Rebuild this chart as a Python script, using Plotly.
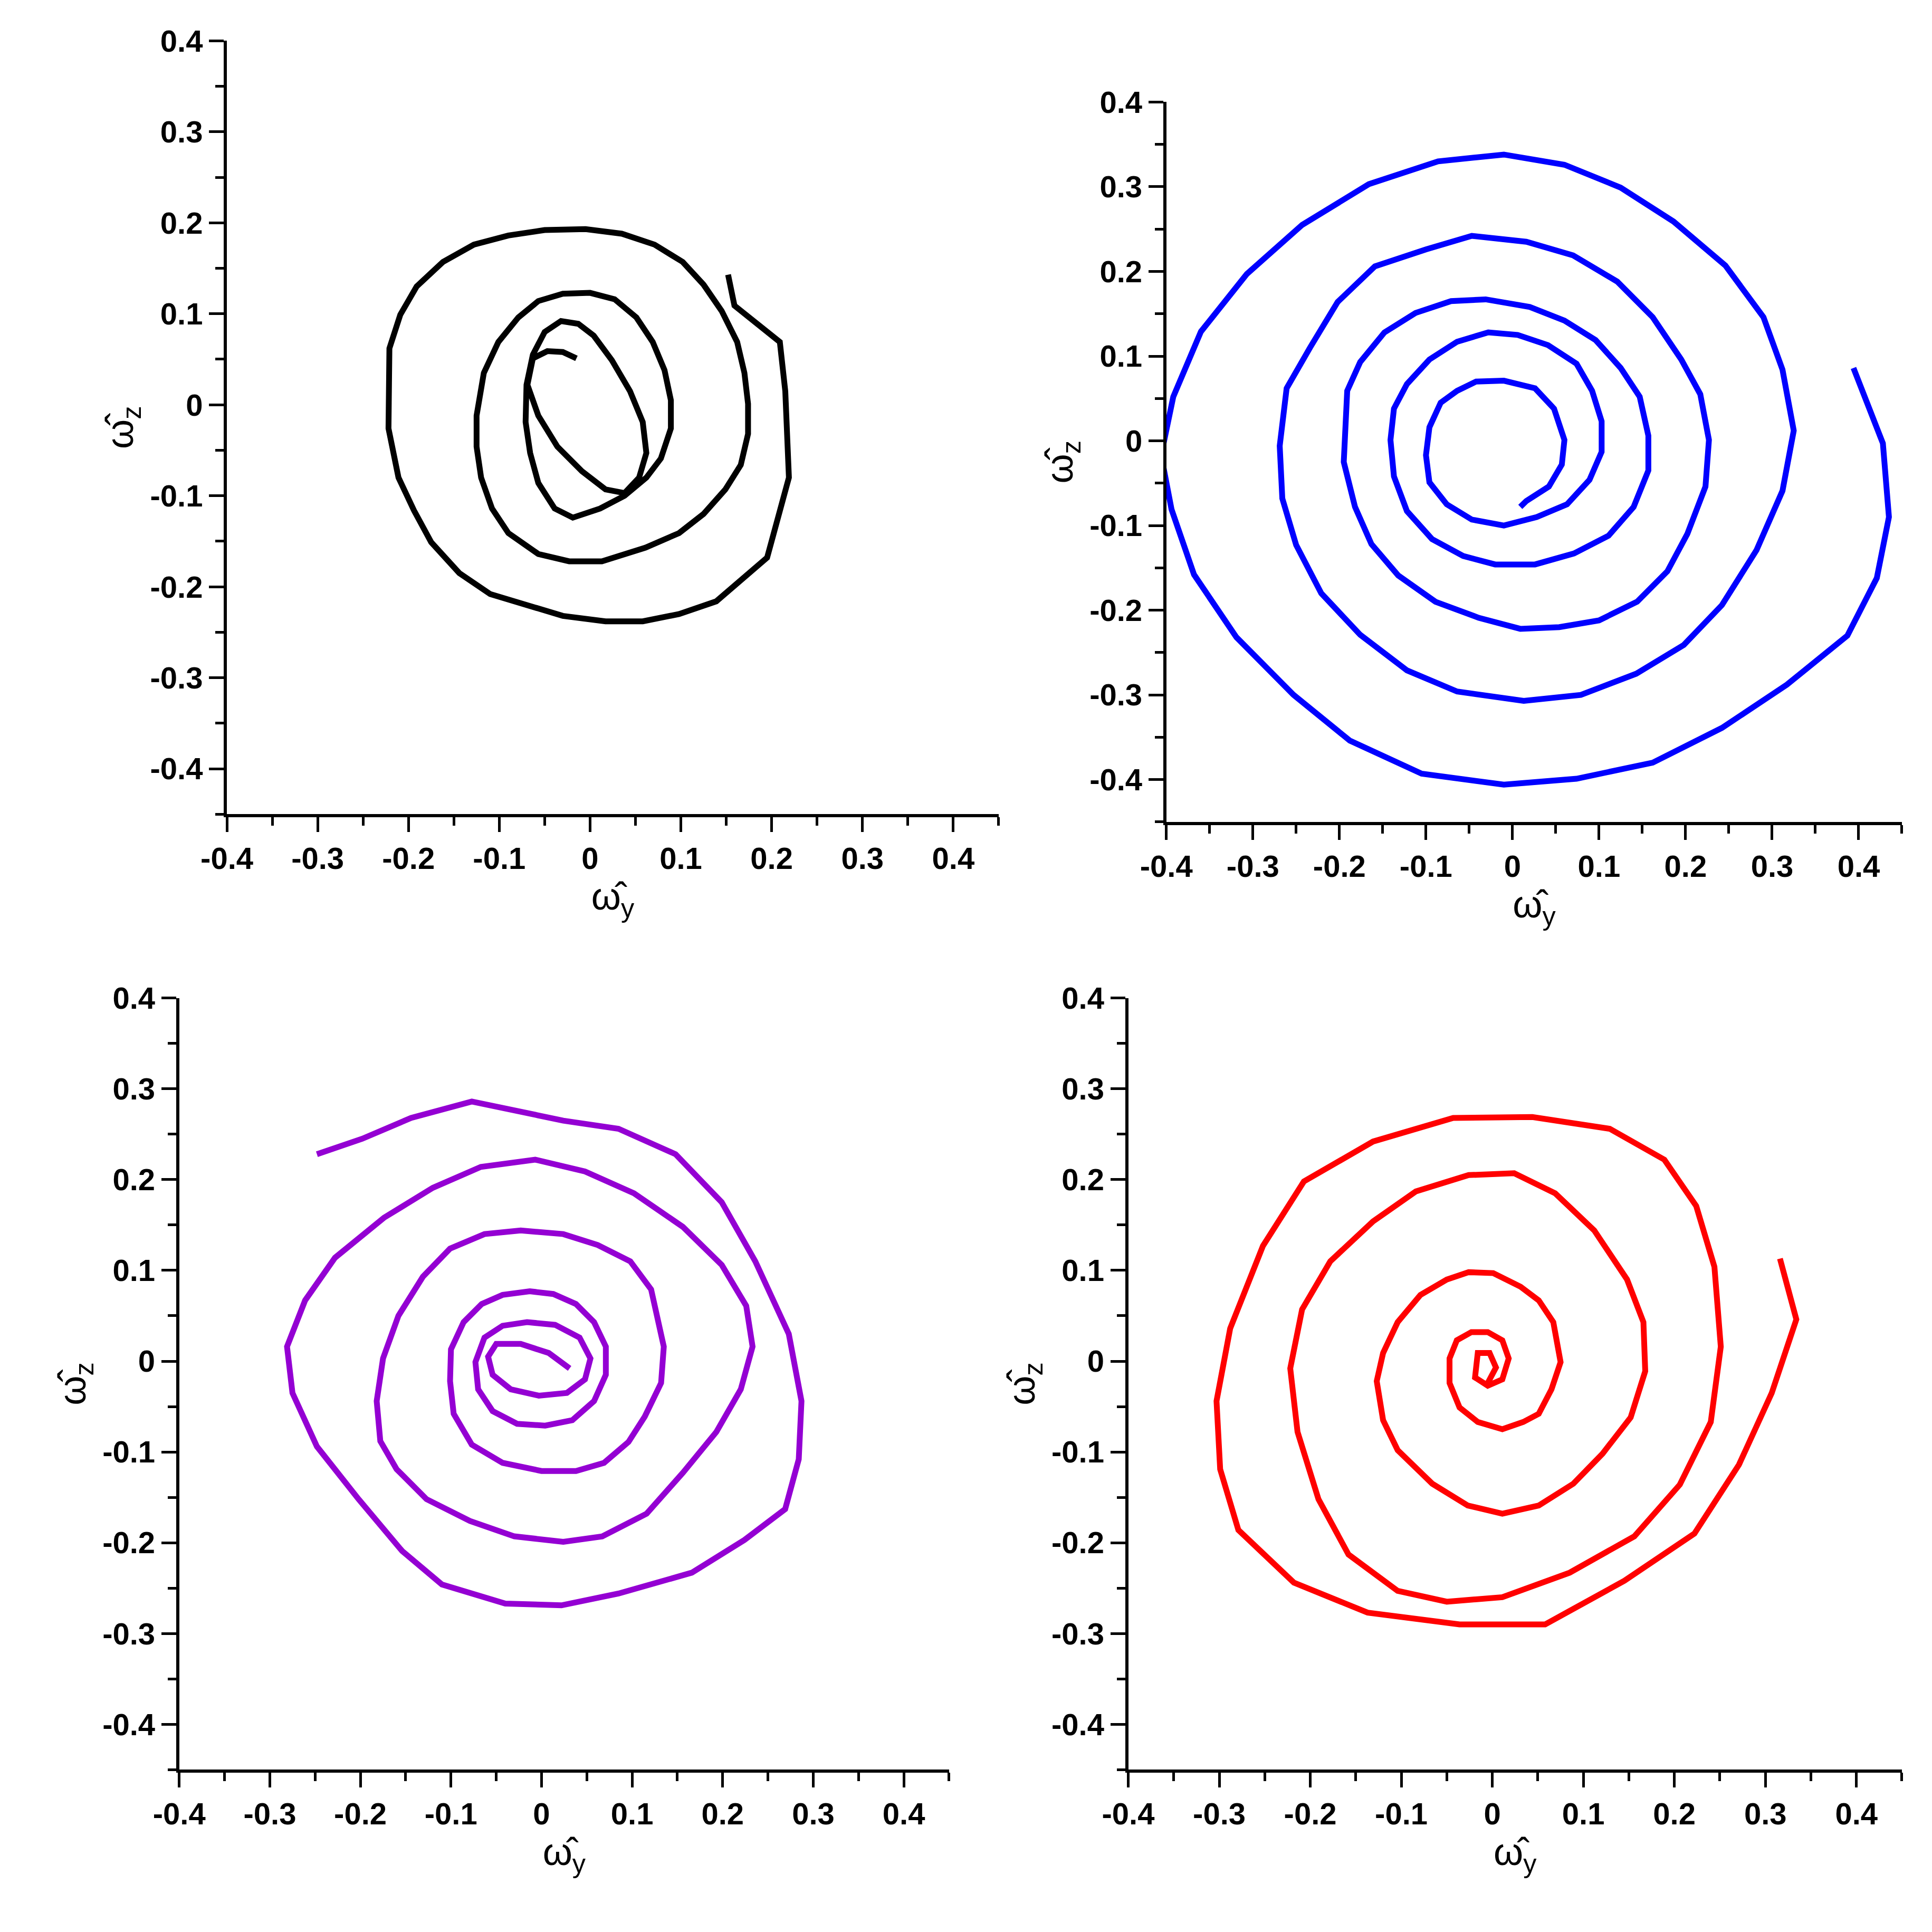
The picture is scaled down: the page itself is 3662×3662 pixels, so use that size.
import plotly.graph_objects as go

# black curve (top left)
black_y = [0.152, 0.159, 0.209, 0.215, 0.219, 0.195, 0.139, 0.098, 0.058, 0.017, -0.030, -0.110, -0.144, -0.175, -0.194, -0.211, -0.222, -0.221, -0.209, -0.191, -0.162, -0.128, -0.090, -0.050, -0.005, 0.035, 0.071, 0.102, 0.125, 0.145, 0.162, 0.170, 0.174, 0.174, 0.166, 0.149, 0.125, 0.098, 0.061, 0.013, -0.023, -0.057, -0.090, -0.108, -0.120, -0.125, -0.125, -0.117, -0.101, -0.079, -0.057, -0.030, 0.000, 0.027, 0.051, 0.069, 0.082, 0.089, 0.089, 0.078, 0.062, 0.038, 0.011, -0.019, -0.039, -0.057, -0.066, -0.071, -0.070, -0.063, -0.050, -0.032, -0.013, 0.004, 0.024, 0.044, 0.058, 0.062, 0.054, 0.038, 0.017, -0.009, -0.036, -0.057, -0.069, -0.063, -0.047, -0.030, -0.015]
black_z = [0.143, 0.109, 0.069, 0.015, -0.080, -0.168, -0.216, -0.230, -0.238, -0.238, -0.232, -0.208, -0.185, -0.151, -0.116, -0.080, -0.026, 0.062, 0.099, 0.130, 0.157, 0.176, 0.186, 0.192, 0.193, 0.188, 0.176, 0.157, 0.132, 0.103, 0.069, 0.035, 0.001, -0.032, -0.066, -0.093, -0.120, -0.141, -0.157, -0.172, -0.172, -0.164, -0.141, -0.114, -0.080, -0.046, -0.012, 0.035, 0.069, 0.096, 0.114, 0.122, 0.123, 0.116, 0.096, 0.069, 0.038, 0.005, -0.026, -0.059, -0.080, -0.100, -0.114, -0.124, -0.114, -0.086, -0.053, -0.019, 0.022, 0.055, 0.080, 0.092, 0.089, 0.076, 0.049, 0.015, -0.019, -0.053, -0.080, -0.097, -0.093, -0.073, -0.046, -0.012, 0.022, 0.051, 0.059, 0.058, 0.051]

# blue curve (top right)
blue_y = [0.394, 0.428, 0.435, 0.421, 0.387, 0.317, 0.242, 0.162, 0.074, -0.010, -0.105, -0.188, -0.253, -0.319, -0.368, -0.394, -0.406, -0.392, -0.360, -0.307, -0.243, -0.166, -0.086, -0.010, 0.060, 0.125, 0.186, 0.246, 0.290, 0.312, 0.325, 0.312, 0.282, 0.242, 0.198, 0.143, 0.079, 0.013, -0.064, -0.122, -0.176, -0.221, -0.250, -0.266, -0.269, -0.261, -0.234, -0.202, -0.159, -0.100, -0.047, 0.016, 0.070, 0.121, 0.162, 0.195, 0.217, 0.227, 0.223, 0.202, 0.179, 0.144, 0.100, 0.054, 0.009, -0.039, -0.089, -0.132, -0.163, -0.182, -0.195, -0.191, -0.176, -0.148, -0.112, -0.071, -0.031, 0.020, 0.060, 0.096, 0.125, 0.147, 0.157, 0.157, 0.140, 0.111, 0.071, 0.026, -0.020, -0.057, -0.093, -0.122, -0.137, -0.141, -0.137, -0.122, -0.096, -0.064, -0.028, 0.006, 0.041, 0.074, 0.092, 0.103, 0.103, 0.089, 0.063, 0.028, -0.010, -0.047, -0.076, -0.096, -0.100, -0.096, -0.083, -0.064, -0.042, -0.010, 0.026, 0.048, 0.060, 0.057, 0.042, 0.016, 0.009]
blue_z = [0.086, -0.003, -0.090, -0.162, -0.230, -0.288, -0.339, -0.380, -0.399, -0.406, -0.393, -0.354, -0.300, -0.232, -0.158, -0.081, -0.017, 0.052, 0.129, 0.197, 0.255, 0.303, 0.330, 0.338, 0.326, 0.299, 0.259, 0.207, 0.146, 0.084, 0.012, -0.059, -0.129, -0.194, -0.241, -0.275, -0.300, -0.307, -0.296, -0.271, -0.229, -0.180, -0.123, -0.068, -0.006, 0.062, 0.110, 0.164, 0.206, 0.226, 0.242, 0.235, 0.219, 0.188, 0.146, 0.096, 0.055, 0.001, -0.054, -0.110, -0.154, -0.190, -0.212, -0.220, -0.222, -0.209, -0.190, -0.159, -0.122, -0.078, -0.025, 0.059, 0.093, 0.128, 0.151, 0.165, 0.167, 0.158, 0.142, 0.119, 0.086, 0.052, 0.006, -0.035, -0.078, -0.112, -0.133, -0.146, -0.146, -0.136, -0.116, -0.083, -0.042, 0.001, 0.038, 0.067, 0.096, 0.117, 0.128, 0.125, 0.113, 0.091, 0.059, 0.023, -0.013, -0.046, -0.075, -0.090, -0.100, -0.093, -0.075, -0.049, -0.017, 0.016, 0.045, 0.059, 0.070, 0.071, 0.062, 0.038, 0.001, -0.028, -0.054, -0.071, -0.078]

# purple curve (bottom left)
purple_y = [-0.248, -0.198, -0.144, -0.077, 0.024, 0.085, 0.148, 0.199, 0.236, 0.273, 0.287, 0.284, 0.269, 0.224, 0.166, 0.085, 0.022, -0.040, -0.110, -0.154, -0.202, -0.248, -0.275, -0.281, -0.261, -0.228, -0.174, -0.120, -0.067, -0.007, 0.048, 0.102, 0.156, 0.199, 0.226, 0.233, 0.220, 0.193, 0.156, 0.116, 0.067, 0.024, -0.030, -0.079, -0.127, -0.160, -0.178, -0.182, -0.175, -0.158, -0.131, -0.101, -0.063, -0.023, 0.024, 0.062, 0.098, 0.121, 0.135, 0.132, 0.114, 0.096, 0.069, 0.038, 0.000, -0.043, -0.077, -0.097, -0.101, -0.100, -0.086, -0.066, -0.043, -0.013, 0.013, 0.038, 0.058, 0.071, 0.071, 0.058, 0.034, 0.004, -0.027, -0.054, -0.070, -0.073, -0.063, -0.043, -0.016, 0.015, 0.042, 0.054, 0.048, 0.028, -0.003, -0.034, -0.054, -0.059, -0.050, -0.023, 0.008, 0.031]
purple_z = [0.228, 0.245, 0.268, 0.286, 0.265, 0.256, 0.228, 0.175, 0.110, 0.030, -0.044, -0.108, -0.163, -0.197, -0.233, -0.256, -0.269, -0.267, -0.246, -0.209, -0.152, -0.094, -0.035, 0.016, 0.067, 0.114, 0.158, 0.191, 0.214, 0.222, 0.209, 0.185, 0.148, 0.106, 0.061, 0.016, -0.031, -0.078, -0.123, -0.168, -0.193, -0.199, -0.193, -0.176, -0.152, -0.119, -0.088, -0.044, 0.003, 0.050, 0.093, 0.124, 0.140, 0.144, 0.140, 0.128, 0.110, 0.079, 0.016, -0.024, -0.061, -0.089, -0.112, -0.121, -0.121, -0.112, -0.092, -0.058, -0.022, 0.013, 0.043, 0.063, 0.073, 0.077, 0.074, 0.063, 0.043, 0.016, -0.015, -0.044, -0.065, -0.071, -0.069, -0.055, -0.031, -0.001, 0.026, 0.039, 0.043, 0.040, 0.026, 0.003, -0.020, -0.035, -0.038, -0.031, -0.015, 0.005, 0.019, 0.019, 0.009, -0.008]

# red curve (bottom right)
red_y = [0.316, 0.334, 0.307, 0.271, 0.222, 0.145, 0.058, -0.036, -0.137, -0.218, -0.279, -0.299, -0.303, -0.288, -0.252, -0.207, -0.131, -0.043, 0.044, 0.129, 0.189, 0.224, 0.244, 0.251, 0.240, 0.206, 0.156, 0.085, 0.011, -0.050, -0.104, -0.158, -0.191, -0.214, -0.222, -0.209, -0.178, -0.131, -0.084, -0.026, 0.024, 0.069, 0.112, 0.148, 0.166, 0.168, 0.152, 0.121, 0.089, 0.051, 0.011, -0.027, -0.066, -0.104, -0.120, -0.127, -0.120, -0.104, -0.079, -0.050, -0.026, 0.001, 0.031, 0.051, 0.067, 0.075, 0.065, 0.051, 0.034, 0.011, -0.016, -0.036, -0.047, -0.047, -0.039, -0.023, -0.005, 0.011, 0.018, 0.011, -0.005, -0.019, -0.016, -0.003, 0.004, -0.005]
red_z = [0.113, 0.046, -0.035, -0.114, -0.190, -0.242, -0.290, -0.290, -0.277, -0.244, -0.186, -0.119, -0.044, 0.036, 0.127, 0.198, 0.242, 0.268, 0.269, 0.256, 0.222, 0.171, 0.104, 0.016, -0.067, -0.136, -0.193, -0.233, -0.260, -0.265, -0.253, -0.213, -0.152, -0.078, -0.008, 0.057, 0.110, 0.154, 0.187, 0.205, 0.207, 0.185, 0.144, 0.090, 0.043, -0.011, -0.062, -0.102, -0.135, -0.159, -0.168, -0.159, -0.135, -0.098, -0.065, -0.022, 0.009, 0.043, 0.073, 0.090, 0.098, 0.097, 0.082, 0.067, 0.043, -0.001, -0.031, -0.058, -0.067, -0.075, -0.067, -0.051, -0.024, 0.003, 0.023, 0.032, 0.032, 0.023, 0.003, -0.020, -0.027, -0.018, 0.009, 0.009, -0.007, -0.024]

tick_vals = [-0.4, -0.3, -0.2, -0.1, 0, 0.1, 0.2, 0.3, 0.4]
tick_text = ["-0.4", "-0.3", "-0.2", "-0.1", "0", "0.1", "0.2", "0.3", "0.4"]

panels = [
    (black_y, black_z, "#000000", [0.103, 0.508], [0.586, 0.990]),
    (blue_y, blue_z, "#0000ff", [0.596, 0.982], [0.582, 0.958]),
    (purple_y, purple_z, "#9400d3", [0.078, 0.482], [0.087, 0.490]),
    (red_y, red_z, "#ff0000", [0.576, 0.982], [0.087, 0.490]),
]

tickfont = dict(family="Liberation Sans", size=58, color="black", weight="bold")
titlefont = dict(family="Liberation Sans", size=72, color="black")

fig = go.Figure()
layout = {}
for i, (wy, wz, color, dx, dy) in enumerate(panels, start=1):
    sfx = "" if i == 1 else str(i)
    fig.add_trace(go.Scatter(x=wy, y=wz, mode="lines",
                             line=dict(color=color, width=11),
                             xaxis="x" + sfx, yaxis="y" + sfx,
                             showlegend=False))
    common = dict(tickvals=tick_vals, ticktext=tick_text, ticks="outside",
                  ticklen=28, tickwidth=5, tickcolor="black",
                  showline=True, linewidth=6, linecolor="black",
                  showgrid=False, zeroline=False, tickfont=tickfont,
                  minor=dict(dtick=0.05, tick0=0.05, ticks="outside",
                             ticklen=16, tickwidth=5, tickcolor="black"))
    layout["xaxis" + sfx] = dict(common, domain=dx, range=[-0.4, 0.45],
                                 anchor="y" + sfx,
                                 title=dict(text="ω̂<sub>y</sub>", font=titlefont, standoff=10))
    layout["yaxis" + sfx] = dict(common, domain=dy, range=[-0.45, 0.4],
                                 anchor="x" + sfx,
                                 title=dict(text="ω̂<sub>z</sub>", font=titlefont, standoff=10))

fig.update_layout(width=3662, height=3662, margin=dict(l=0, r=0, t=0, b=0),
                  paper_bgcolor="white", plot_bgcolor="white", **layout)
fig.write_html("out.html")
